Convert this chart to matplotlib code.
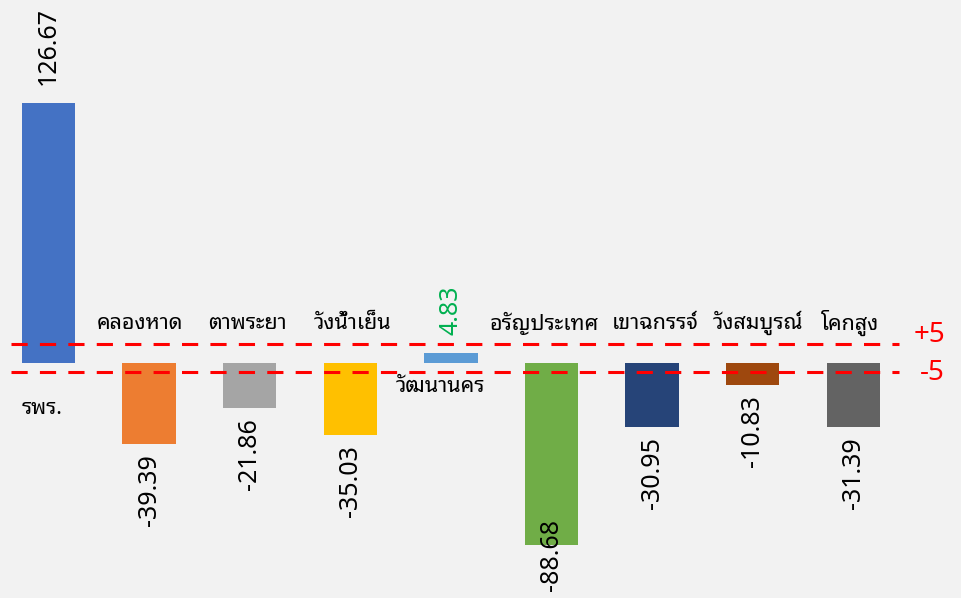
import matplotlib
matplotlib.use("Agg")
from matplotlib import pyplot as plt

# data
names = ["รพร.", "คลองหาด", "ตาพระยา", "วังน้ำเย็น", "วัฒนานคร",
         "อรัญประเทศ", "เขาฉกรรจ์", "วังสมบูรณ์", "โคกสูง"]
values = [126.67, -39.39, -21.86, -35.03, 4.83, -88.68, -30.95, -10.83, -31.39]
colors = ["#4472c4", "#ed7d31", "#a5a5a5", "#ffc000", "#5b9bd5",
          "#70ad47", "#264478", "#9e480e", "#636363"]
limit_labels = ["+5", "-5"]
limit_pos = [9.3, -4.4]

# small horizontal nudges of the category labels (in bar units)
name_dx = [-0.27, -0.09, -0.02, 0.02, -0.1, -0.07, 0.03, 0.05, -0.03]

plt.rcParams["font.family"] = ["Noto Sans Thai Looped", "Noto Sans", "DejaVu Sans"]

fig = plt.figure(figsize=(9.62, 5.98), dpi=100)
fig.patch.set_facecolor("#f2f2f2")
ax = fig.add_axes([0, 0, 1, 1])
ax.set_facecolor("#f2f2f2")

x = list(range(len(values)))
ax.bar(x, values, width=0.53, color=colors)

ylo = -114.6
for i, v in enumerate(values):
    if v >= 0:
        ax.text(i, v + 9, f"{v:.2f}", rotation=90, ha="center", va="bottom",
                fontsize=18, color="#00b050" if v < 10 else "black")
    elif v - 45 < ylo:
        # label doesn't fit under the bar, push it up
        ax.text(i, ylo + 3.5, f"{v:.2f}", rotation=90, ha="center", va="bottom",
                fontsize=18, color="black")
    else:
        ax.text(i, v - 5, f"{v:.2f}", rotation=90, ha="center", va="top",
                fontsize=18, color="black")

for i, nm in enumerate(names):
    if i == 0:
        ax.text(i + name_dx[i], -22, nm, ha="left", va="center", fontsize=15.5,
                fontweight="bold")
    elif i == 4:
        ax.text(i + name_dx[i], -11.5, nm, ha="center", va="center", fontsize=15.5)
    else:
        ax.text(i + name_dx[i], 19.5, nm, ha="center", va="center", fontsize=15.5)

for k, (lbl, p) in enumerate(zip(limit_labels, limit_pos)):
    ax.plot([-0.37, 8.45], [p, p], color="red", lw=2.2,
            linestyle=(0, (5.3, 4)))
    ax.text(8.91, p + (4.4 if k == 0 else -0.5), lbl, ha="right", va="center",
            fontsize=20, color="red")

ax.set_xlim(-0.482, 9.08)
ax.set_ylim(ylo, 177.1)
ax.axis("off")

fig.savefig("out.png", dpi=100, facecolor=fig.get_facecolor())
